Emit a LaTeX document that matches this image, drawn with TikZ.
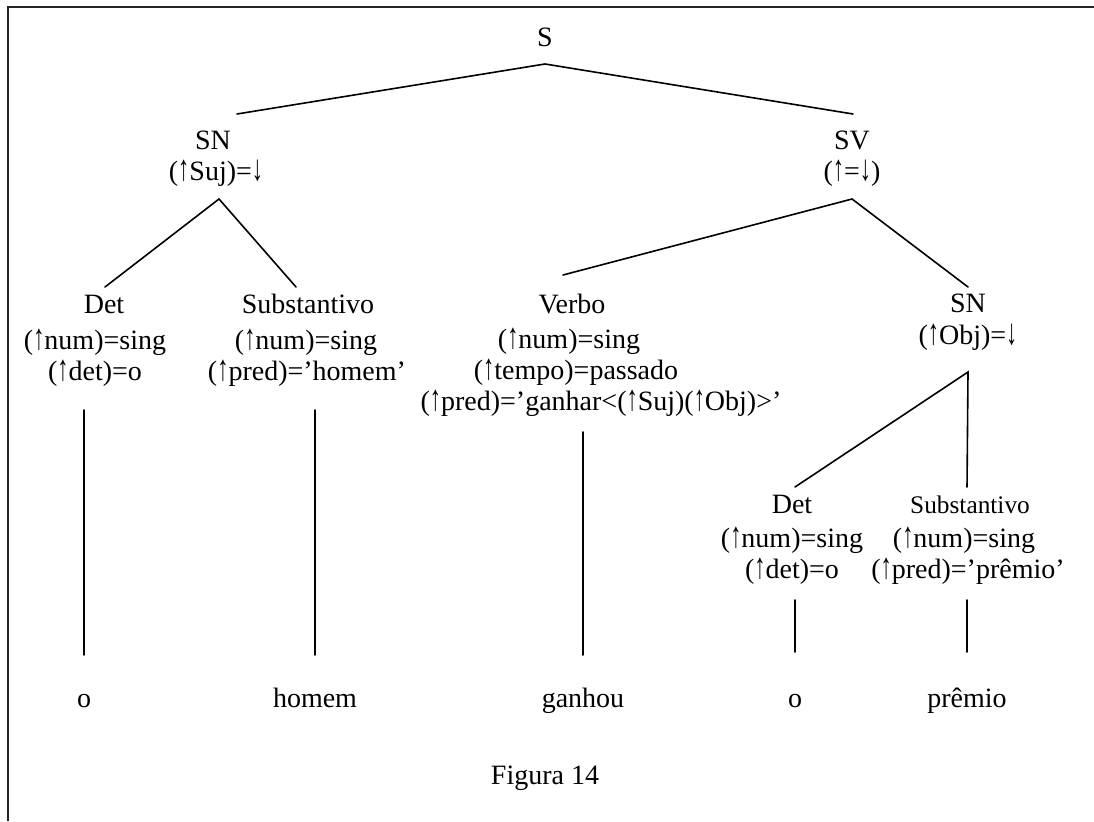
\documentclass[tikz,border=0pt]{standalone}
\usepackage{fontspec}
\setmainfont{Liberation Serif}
% tall, slim arrows used in the feature equations
\newcommand{\fup}{\scalebox{0.8}[1.3]{↑}}
\newcommand{\fdn}{\scalebox{0.8}[1.3]{↓}}
\begin{document}
\begin{tikzpicture}[x=0.75pt,y=-0.75pt,
  lbl/.style={inner sep=0pt,anchor=base,font=\fontsize{21}{25}\selectfont},
  small/.style={lbl,font=\fontsize{19}{23}\selectfont},
  branch/.style={line width=1.2pt,line cap=round},
  frame/.style={line width=1.6pt,draw=black!85}]
\useasboundingbox (0,0) rectangle (1094,821);

% frame (top and left sides)
\draw[frame] (1094,7) -- (8,7) -- (8,821);

% root
\node[lbl] (S) at (545,46) {S};
\coordinate (S-b) at (545,64);

% subject NP
\node[lbl] (SN1) at (213,149) {SN};
\node[lbl] (SN1f) at (216,180) {(\fup Suj)=\fdn};
\coordinate (SN1-t) at (237,114);
\coordinate (SN1-b) at (219,199);

% verb phrase
\node[lbl] (SV) at (852,149) {SV};
\node[lbl] (SVf) at (852,180) {(\fup=\fdn)};
\coordinate (SV-t) at (853,114);
\coordinate (SV-b) at (852,199);

% determiner of subject
\node[lbl] (Det1) at (104,313) {Det};
\node[lbl] (Det1a) at (95,349) {(\fup num)=sing};
\node[lbl] (Det1b) at (95,380) {(\fup det)=o};
\coordinate (Det1-t) at (105,287);
\coordinate (Det1-b) at (84,410);

% noun of subject
\node[lbl] (N1) at (308,313) {Substantivo};
\node[lbl] (N1a) at (306,349) {(\fup num)=sing};
\node[lbl] (N1b) at (307,380) {(\fup pred)=’homem’};
\coordinate (N1-t) at (296,287);
\coordinate (N1-b) at (315,410);

% verb
\node[lbl] (V) at (572,313) {Verbo};
\node[lbl] (Va) at (569,348) {(\fup num)=sing};
\node[lbl] (Vb) at (576,379) {(\fup tempo)=passado};
\node[lbl] (Vc) at (601,410) {(\fup pred)=’ganhar<(\fup Suj)(\fup Obj)>’};
\coordinate (V-t) at (563,275);
\coordinate (V-b) at (583,432);

% object NP
\node[lbl] (SN2) at (968,312) {SN};
\node[lbl] (SN2f) at (968,344) {(\fup Obj)=\fdn};
\coordinate (SN2-t) at (968,287);
\coordinate (SN2-b) at (968,372);

% determiner of object
\node[lbl] (Det2) at (792,513) {Det};
\node[lbl] (Det2a) at (792,547) {(\fup num)=sing};
\node[lbl] (Det2b) at (792,578) {(\fup det)=o};
\coordinate (Det2-t) at (795,487);
\coordinate (Det2-b) at (795,600);

% noun of object
\node[small] (N2) at (970,513) {Substantivo};
\node[lbl] (N2a) at (964,547) {(\fup num)=sing};
\node[lbl] (N2b) at (968,578) {(\fup pred)=’prêmio’};
\coordinate (N2-t) at (967,487);
\coordinate (N2-b) at (967,600);

% words
\node[lbl] (w1) at (84,707) {o};
\node[lbl] (w2) at (315,707) {homem};
\node[lbl] (w3) at (583,707) {ganhou};
\node[lbl] (w4) at (795,707) {o};
\node[lbl] (w5) at (967,707) {prêmio};
\coordinate (w1-t) at (84,655);
\coordinate (w2-t) at (315,655);
\coordinate (w3-t) at (583,655);
\coordinate (w4-t) at (795,652);
\coordinate (w5-t) at (967,652);

% caption
\node[lbl] (cap) at (545,784) {Figura 14};

% branches
\draw[branch] (SN1-t) -- (S-b) -- (SV-t);
\draw[branch] (Det1-t) -- (SN1-b) -- (N1-t);
\draw[branch] (V-t) -- (SV-b) -- (SN2-t);
\draw[branch] (Det2-t) -- (SN2-b) -- (N2-t);
\draw[branch] (Det1-b) -- (w1-t);
\draw[branch] (N1-b) -- (w2-t);
\draw[branch] (V-b) -- (w3-t);
\draw[branch] (Det2-b) -- (w4-t);
\draw[branch] (N2-b) -- (w5-t);
\end{tikzpicture}
\end{document}
